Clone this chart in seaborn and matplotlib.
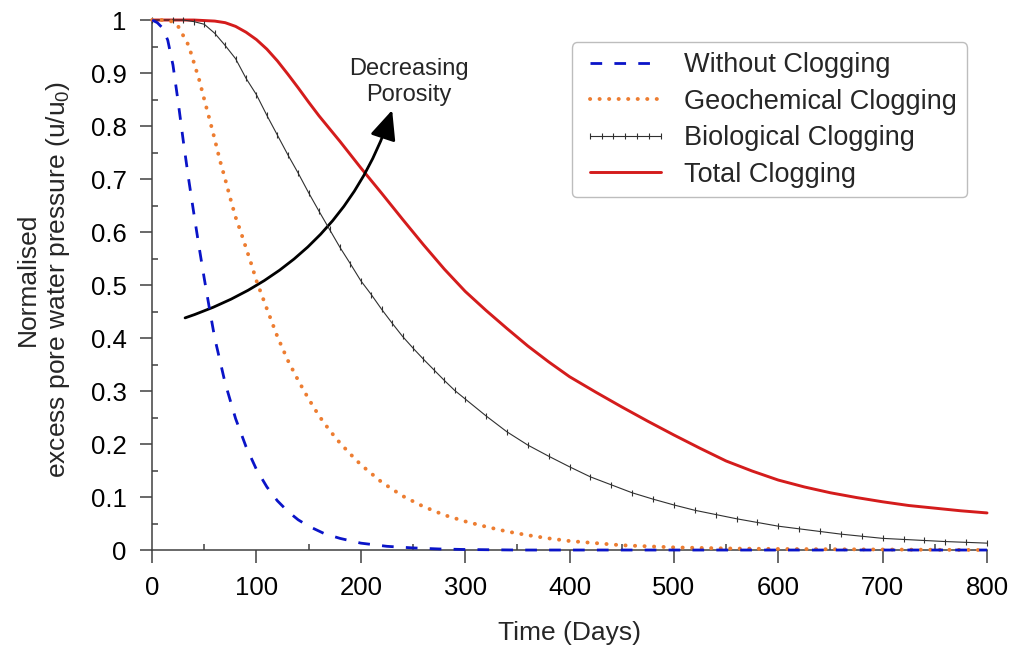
import numpy as np
import pandas as pd
import seaborn as sns
import matplotlib
matplotlib.use("Agg")
import matplotlib.pyplot as plt
from matplotlib.lines import Line2D
from matplotlib.ticker import MultipleLocator

# ---------------- data ----------------
t_without = [0, 5, 10, 15, 20, 25, 30, 35, 40, 45, 50, 55, 60, 70, 80, 90, 100, 110,
             120, 130, 140, 150, 165, 180, 200, 225, 250, 275, 300, 350, 400, 500,
             600, 700, 800]
u_without = [1.0, 0.995, 0.985, 0.962, 0.915, 0.845, 0.77, 0.70, 0.635, 0.572, 0.512,
             0.455, 0.40, 0.315, 0.248, 0.195, 0.152, 0.119, 0.093, 0.073, 0.057,
             0.045, 0.031, 0.022, 0.013, 0.007, 0.004, 0.002, 0.001, 0.0, 0.0, 0.0,
             0.0, 0.0, 0.0]

t_geo = [0, 10, 20, 25, 30, 35, 40, 45, 50, 55, 60, 65, 70, 75, 80, 85, 90, 95, 100,
         110, 120, 130, 140, 150, 160, 170, 180, 190, 200, 220, 240, 260, 280, 300,
         320, 340, 360, 380, 400, 450, 500, 550, 600, 700, 800]
u_geo = [1.0, 1.0, 0.997, 0.988, 0.970, 0.952, 0.920, 0.888, 0.850, 0.813, 0.775,
         0.735, 0.700, 0.663, 0.628, 0.600, 0.570, 0.540, 0.508, 0.455, 0.403, 0.358,
         0.320, 0.285, 0.253, 0.226, 0.202, 0.181, 0.161, 0.128, 0.102, 0.082, 0.066,
         0.054, 0.044, 0.035, 0.028, 0.022, 0.017, 0.009, 0.005, 0.003, 0.002, 0.001,
         0.0]

t_bio = [0, 20, 30, 40, 50, 60, 70, 80, 90, 100, 110, 120, 130, 140, 150, 160, 170,
         180, 190, 200, 210, 220, 230, 240, 250, 260, 270, 280, 290, 300, 320, 340,
         360, 380, 400, 420, 440, 460, 480, 500, 520, 540, 560, 580, 600, 620, 640,
         660, 680, 700, 720, 740, 760, 780, 800]
u_bio = [1.0, 1.0, 1.0, 0.997, 0.992, 0.975, 0.952, 0.927, 0.890, 0.859, 0.820, 0.783,
         0.746, 0.711, 0.674, 0.639, 0.605, 0.571, 0.540, 0.508, 0.482, 0.454, 0.428,
         0.403, 0.381, 0.360, 0.340, 0.320, 0.301, 0.285, 0.253, 0.223, 0.198, 0.177,
         0.157, 0.138, 0.123, 0.108, 0.096, 0.085, 0.075, 0.067, 0.059, 0.052, 0.045,
         0.040, 0.035, 0.030, 0.026, 0.022, 0.020, 0.018, 0.016, 0.0145, 0.013]

t_total = [0, 20, 40, 60, 70, 80, 90, 100, 110, 120, 130, 140, 150, 160, 170, 180,
           190, 200, 210, 220, 240, 260, 280, 300, 320, 340, 360, 380, 400, 425, 450,
           475, 500, 525, 550, 575, 600, 625, 650, 675, 700, 725, 750, 775, 800]
u_total = [1.0, 1.0, 1.0, 0.998, 0.995, 0.988, 0.977, 0.963, 0.945, 0.923, 0.898,
           0.872, 0.845, 0.819, 0.795, 0.771, 0.746, 0.721, 0.697, 0.673, 0.624,
           0.576, 0.530, 0.488, 0.452, 0.418, 0.385, 0.355, 0.327, 0.298, 0.270,
           0.243, 0.217, 0.192, 0.168, 0.149, 0.132, 0.119, 0.108, 0.099, 0.091,
           0.084, 0.079, 0.074, 0.070]

labels = ["Without Clogging", "Geochemical Clogging", "Biological Clogging", "Total Clogging"]
x_ticks = [0, 100, 200, 300, 400, 500, 600, 700, 800]
y_ticks = [0, 0.1, 0.2, 0.3, 0.4, 0.5, 0.6, 0.7, 0.8, 0.9, 1.0]
y_ticklabels = ["0", "0.1", "0.2", "0.3", "0.4", "0.5", "0.6", "0.7", "0.8", "0.9", "1"]

# ---------------- style ----------------
sns.set_style("ticks")
plt.rcParams['font.family'] = ['Liberation Sans', 'DejaVu Sans']
plt.rcParams['mathtext.fontset'] = 'custom'
plt.rcParams['mathtext.rm'] = 'Liberation Sans'
plt.rcParams['mathtext.it'] = 'Liberation Sans:italic'

c_blue = "#0a14c8"
c_orange = "#ed7d31"
c_bio = "#303030"
c_red = "#d41c1c"
axis_col = "#404040"

blue_ls = (0, (4.2, 4.4))
orange_ls = (0, (0.05, 2.4))

fig = plt.figure(figsize=(10.14, 6.5), dpi=100)
ax = fig.add_axes([0.15, 0.1538, 0.8234, 0.8154])

sns.lineplot(x=t_total, y=u_total, ax=ax, color=c_red, lw=2.1, sort=False,
             estimator=None, clip_on=False, zorder=3)
sns.lineplot(x=t_bio, y=u_bio, ax=ax, color=c_bio, lw=0.8, sort=False,
             estimator=None, marker='|', markersize=4.5, markeredgewidth=0.8,
             markeredgecolor=c_bio, markerfacecolor=c_bio,
             markevery=0.0147, clip_on=False, zorder=4)
sns.lineplot(x=t_geo, y=u_geo, ax=ax, color=c_orange, lw=2.8, sort=False,
             estimator=None, linestyle=orange_ls, dash_capstyle='round',
             clip_on=False, zorder=5)
sns.lineplot(x=t_without, y=u_without, ax=ax, color=c_blue, lw=2.0, sort=False,
             estimator=None, linestyle=blue_ls, clip_on=False, zorder=6)

ax.set_xlim(0, 800)
ax.set_ylim(0, 1)
ax.set_xticks(x_ticks)
ax.set_yticks(y_ticks)
ax.set_yticklabels(y_ticklabels)
ax.xaxis.set_minor_locator(MultipleLocator(50))
ax.yaxis.set_minor_locator(MultipleLocator(0.05))

for s in ['top', 'right']:
    ax.spines[s].set_visible(False)
for s in ['left', 'bottom']:
    ax.spines[s].set_color(axis_col)
    ax.spines[s].set_linewidth(1.1)

ax.tick_params(axis='both', which='major', direction='out', length=9, width=1.1,
               color=axis_col, labelsize=18.5, pad=9.5, labelcolor='black')
ax.tick_params(axis='both', which='minor', direction='in', length=4.5, width=1.1,
               color=axis_col)

ax.set_xlabel("Time (Days)", fontsize=19, labelpad=15)
ax.set_ylabel("Normalised\nexcess pore water pressure (u/u$_\\mathregular{0}$)",
              fontsize=19, linespacing=1.2)
ax.yaxis.set_label_coords(-0.096, 0.51)

# annotation
ax.annotate("", xy=(230, 0.83), xytext=(31.6, 0.438),
            arrowprops=dict(arrowstyle='-|>,head_length=0.9,head_width=0.4',
                            connectionstyle='arc3,rad=0.25', color='black', lw=2.0,
                            shrinkA=0, shrinkB=0, mutation_scale=20))
ax.text(246, 0.883, "Decreasing\nPorosity", fontsize=17, ha='center', va='center',
        multialignment='center', linespacing=1.25)

# legend
handles = [
    Line2D([], [], color=c_blue, lw=2.0, linestyle=blue_ls),
    Line2D([], [], color=c_orange, lw=2.8, linestyle=orange_ls, dash_capstyle='round'),
    Line2D([], [], color=c_bio, lw=0.8, marker='|', markersize=4.5, markeredgewidth=0.8),
    Line2D([], [], color=c_red, lw=2.1),
]
leg = ax.legend(handles, labels, loc='upper right', bbox_to_anchor=(0.976, 0.958),
                borderaxespad=0, fontsize=19.5, handlelength=3.25, handletextpad=0.55,
                labelspacing=0.39, numpoints=7, frameon=True, fancybox=True,
                borderpad=0.36)
leg.get_frame().set_edgecolor('#bdbdbd')
leg.get_frame().set_linewidth(1.0)
leg.get_frame().set_alpha(1.0)

fig.savefig("out.png", dpi=100)
